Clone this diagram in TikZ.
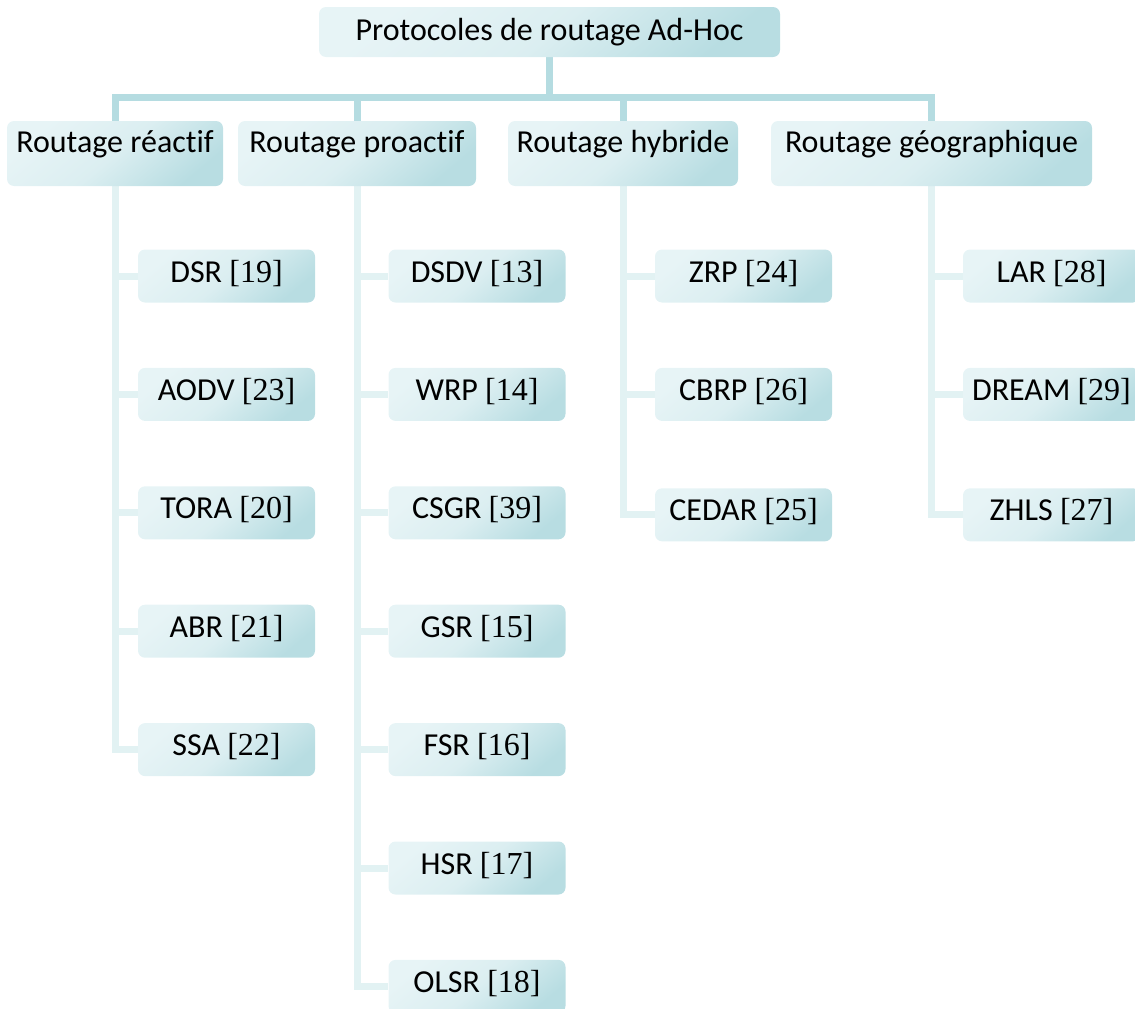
\documentclass[tikz,border=0pt]{standalone}
\usepackage{fontspec}
\setmainfont{Carlito}[Ligatures=NoCommon]
\newfontfamily\refont{Liberation Serif}
\newcommand\rf[1]{{\refont[#1]}}
\usetikzlibrary{backgrounds}
\definecolor{boxlight}{RGB}{231,244,246}
\definecolor{boxdark}{RGB}{184,221,226}
\definecolor{trunk}{RGB}{181,220,225}
\definecolor{branch}{RGB}{226,242,243}
\tikzset{
  box/.style={rounded corners=7pt, inner sep=0pt, align=center,
    font=\fontsize{32}{36}\selectfont,
    top color=boxlight, bottom color=boxdark,
    middle color=boxlight!75!boxdark, shading angle=40},
  rootbox/.style={box, minimum width=461pt, minimum height=50pt, text height=22pt, text depth=6pt},
  catbox/.style={box, minimum height=65pt, text height=22pt, text depth=24pt},
  leafbox/.style={box, minimum width=177pt, minimum height=53pt, text height=22pt, text depth=10pt},
  trunkline/.style={draw=trunk, line width=7pt},
  branchline/.style={draw=branch, line width=7pt},
}
\begin{document}
\begin{tikzpicture}[x=1pt,y=-1pt]
\useasboundingbox (0,0) rectangle (1135,1009);
\clip (0,0) rectangle (1135,1009);
\node[rootbox] (root) at (549.5,32) {Protocoles de routage Ad-Hoc};
\node[catbox, minimum width=216pt] (rea) at (115,153.5) {Routage réactif};
\node[catbox, minimum width=238pt] (pro) at (357,153.5) {Routage proactif};
\node[catbox, minimum width=230pt] (hyb) at (623,153.5) {Routage hybride};
\node[catbox, minimum width=321pt] (geo) at (931.5,153.5) {Routage géographique};
% reactive
\node[leafbox] (r1) at (226.5,276) {DSR \rf{19}};
\node[leafbox] (r2) at (226.5,394.4) {AODV \rf{23}};
\node[leafbox] (r3) at (226.5,512.8) {TORA \rf{20}};
\node[leafbox] (r4) at (226.5,631.2) {ABR \rf{21}};
\node[leafbox] (r5) at (226.5,749.6) {SSA \rf{22}};
% proactive
\node[leafbox] (p1) at (477,276) {DSDV \rf{13}};
\node[leafbox] (p2) at (477,394.4) {WRP \rf{14}};
\node[leafbox] (p3) at (477,512.8) {CSGR \rf{39}};
\node[leafbox] (p4) at (477,631.2) {GSR \rf{15}};
\node[leafbox] (p5) at (477,749.6) {FSR \rf{16}};
\node[leafbox] (p6) at (477,868) {HSR \rf{17}};
\node[leafbox] (p7) at (477,986.4) {OLSR \rf{18}};
% hybrid
\node[leafbox] (h1) at (743.5,276) {ZRP \rf{24}};
\node[leafbox] (h2) at (743.5,394.4) {CBRP \rf{26}};
\node[leafbox] (h3) at (743.5,514.8) {CEDAR \rf{25}};
% geographic
\node[leafbox] (g1) at (1051.5,276) {LAR \rf{28}};
\node[leafbox] (g2) at (1051.5,394.4) {DREAM \rf{29}};
\node[leafbox] (g3) at (1051.5,514.8) {ZHLS \rf{27}};
\begin{pgfonlayer}{background}
\foreach \c in {rea,pro,hyb,geo}
  \draw[trunkline] (root.south) -- ++(0,40) -| (\c.north);
\foreach \c in {r1,r2,r3,r4,r5}
  \draw[branchline] (rea.south) |- (\c.west);
\foreach \c in {p1,p2,p3,p4,p5,p6,p7}
  \draw[branchline] (pro.south) |- (\c.west);
\foreach \c in {h1,h2,h3}
  \draw[branchline] (hyb.south) |- (\c.west);
\foreach \c in {g1,g2,g3}
  \draw[branchline] (geo.south) |- (\c.west);
\end{pgfonlayer}
\end{tikzpicture}
\end{document}
